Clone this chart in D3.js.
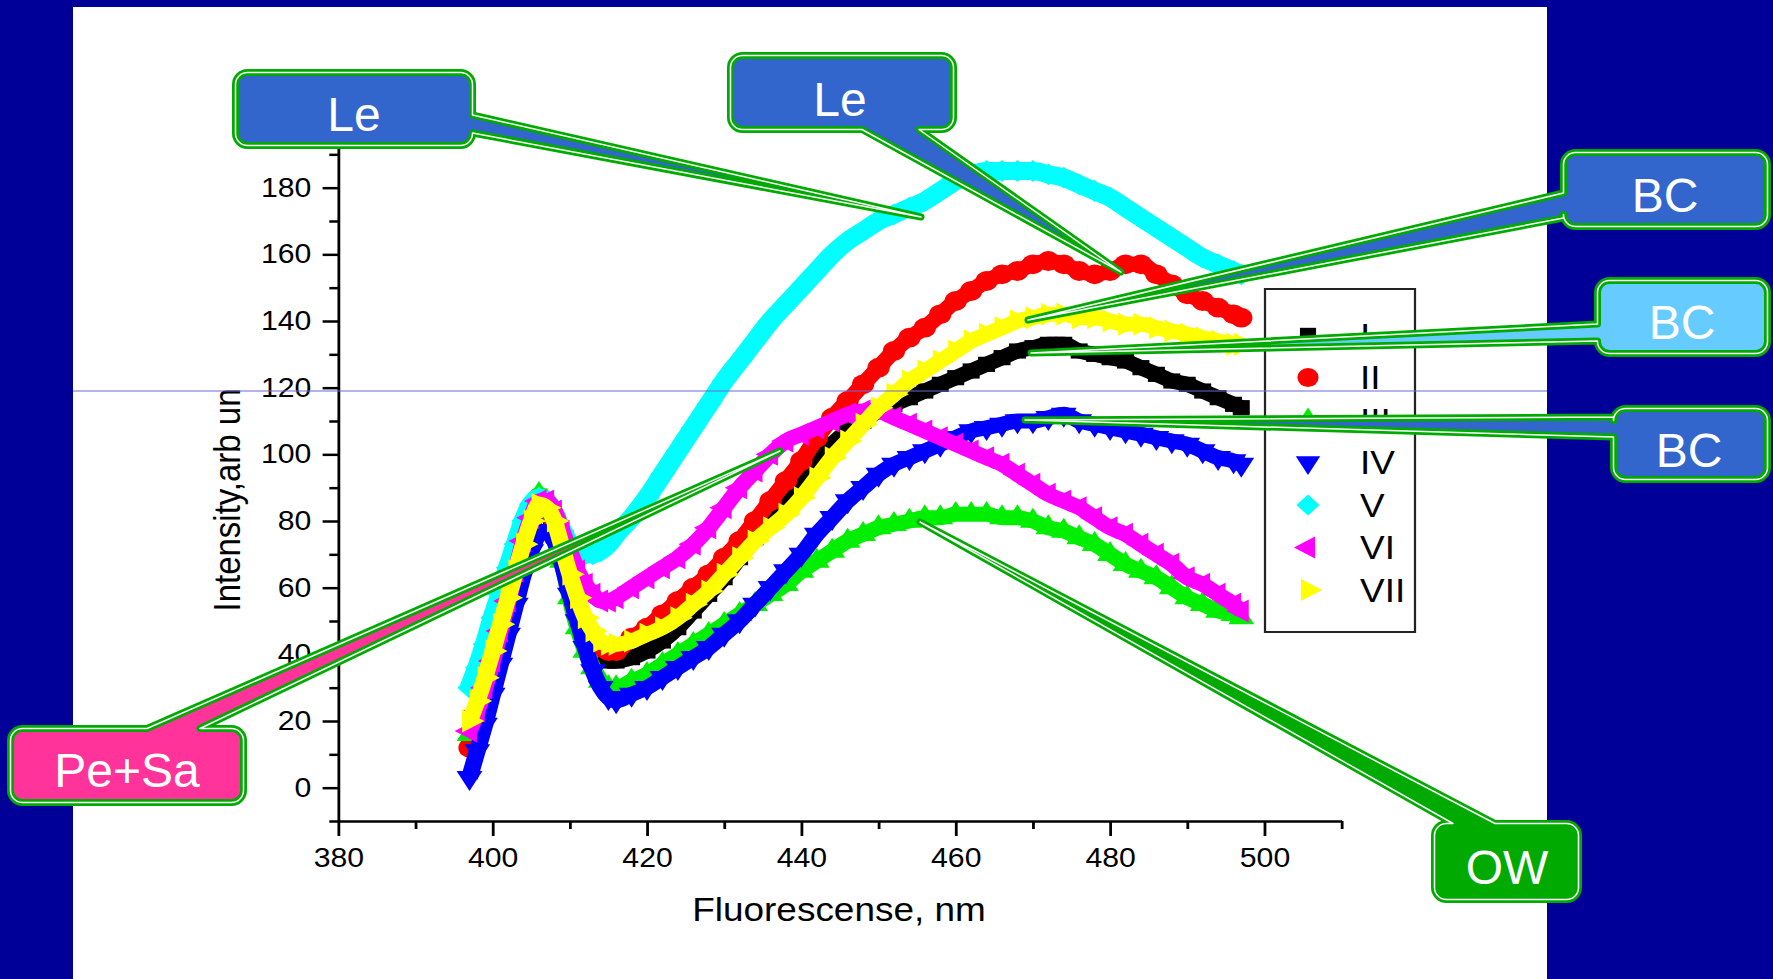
<!DOCTYPE html>
<html>
<head>
<meta charset="utf-8">
<script src="https://cdn.jsdelivr.net/npm/d3@7"></script>
<style>
  body { margin: 0; background: #000099; }
  svg { display: block; }
  text { font-family: "Liberation Sans", Arial, sans-serif; }
</style>
</head>
<body>
<div id="chart"></div>
<script>
// wavelengths (nm) shared by all seven spectra
const wavelengths = [397,398,399,400,401,402,403,404,405,406,407,408,409,410,411,412,413,414,415,416,
  418,420,422,424,426,428,430,432,434,436,438,440,442,444,446,448,450,452,454,456,
  458,460,462,464,466,468,470,472,474,476,478,480,482,484,486,488,490,492,494,496,497]

const seriesNames = ['I', 'II', 'III', 'IV', 'V', 'VI', 'VII']

const intensityI = [14,20,28,36,45,54,63,71,78,82,82,77,69,60,52,46,42,39,38,38,
  39,41,44,48,53,58,63,69,75,81,87,93,98,103,107,110,113,115,117,119,
  121,123,125,127,129,131,132,133,133,131,130,129,128,126,124,122,121,119,117,115,114]
const intensityII = [12,18,26,34,43,52,61,70,78,83,83,78,70,61,54,48,44,42,41,41,
  45,48,52,56,60,64,69,74,80,86,92,98,105,111,116,121,126,131,135,138,
  142,146,149,152,154,155,157,158,157,155,154,155,157,157,154,151,148,146,144,142,141]
const intensityIII = [16,21,28,36,45,55,65,75,83,88,86,79,68,57,48,41,36,32,30,30,
  32,34,37,40,43,46,49,52,55,58,61,65,68,71,74,76,78,79,80,81,
  81,82,82,82,81,81,80,78,77,75,73,70,67,65,63,60,57,55,53,52,51]
const intensityIV = [3,11,19,28,37,46,55,64,71,76,77,74,67,58,50,42,35,30,27,26,
  28,30,33,36,39,42,46,50,55,60,65,70,76,81,86,90,94,97,99,101,
  103,105,107,108,109,110,110,111,112,110,109,108,107,106,105,104,103,101,99,98,97]
const intensityV = [30,36,43,51,58,66,73,80,85,87,86,82,77,73,71,70,70,71,73,76,
  81,87,94,101,108,115,122,128,134,140,145,150,155,160,164,167,170,172,174,176,
  179,182,184,185,185,185,185,184,183,181,179,177,174,171,168,165,162,159,157,155,154]
const intensityVI = [17,23,30,38,47,56,65,74,81,86,86,83,77,71,65,61,58,56,56,57,
  60,63,66,69,73,78,84,90,95,100,104,106,108,110,112,113,113,111,109,107,
  105,103,101,99,97,94,91,88,86,84,81,78,76,73,70,67,63,61,58,55,53]
const intensityVII = [20,26,33,41,49,57,65,73,80,85,84,80,72,64,57,51,47,44,43,43,
  44,46,48,51,55,59,64,69,74,78,82,87,93,99,104,109,114,118,122,125,
  128,131,134,136,138,140,141,142,142,141,141,140,139,139,138,137,136,135,134,133,133]

const xTicks = [380, 400, 420, 440, 460, 480, 500]
const xMinorTicks = [390, 410, 430, 450, 470, 490, 510]
const yTicks = [0, 20, 40, 60, 80, 100, 120, 140, 160, 180]
const yMinorTicks = [-10, 10, 30, 50, 70, 90, 110, 130, 150, 170, 190]

const calloutLabels = ['Le', 'Le', 'BC', 'BC', 'BC', 'Pe+Sa', 'OW']

const W = 1773, H = 979
const SX = 1.12   // the pasted graph is a little stretched sideways

const svg = d3.select('#chart').append('svg')
              .attr('width', W)
              .attr('height', H)

svg.append('rect').attr('width', W).attr('height', H).attr('fill', '#000099')
svg.append('rect').attr('x', 73).attr('y', 7).attr('width', 1474).attr('height', H - 7).attr('fill', '#fff')

let g = svg.append('g').attr('transform', 'scale(' + SX + ',1)')

let x = d3.scaleLinear().domain([380, 510]).range([338.3 / SX, 1341.6 / SX])
let y = d3.scaleLinear().domain([-10, 200]).range([821, 121])

function styleAxis(sel) {
  sel.attr('font-size', 27)
     .attr('font-family', '"Liberation Sans", Arial, sans-serif')
     .attr('color', '#000')
  sel.selectAll('line, path').attr('stroke-width', 2.5)
}

// x axis
g.append('g')
 .attr('transform', 'translate(0,' + y(-10) + ')')
 .call(d3.axisBottom(x).tickValues(xTicks).tickSize(15).tickSizeOuter(0).tickPadding(12))
 .call(styleAxis)
g.append('g')
 .attr('transform', 'translate(0,' + y(-10) + ')')
 .call(d3.axisBottom(x).tickValues(xMinorTicks).tickSize(8).tickFormat(''))
 .call(styleAxis)
 .call(s => s.select('.domain').remove())

// y axis
g.append('g')
 .attr('transform', 'translate(' + x(380) + ',0)')
 .call(d3.axisLeft(y).tickValues(yTicks).tickSize(14).tickSizeOuter(0).tickPadding(10))
 .call(styleAxis)
g.append('g')
 .attr('transform', 'translate(' + x(380) + ',0)')
 .call(d3.axisLeft(y).tickValues(yMinorTicks).tickSize(8).tickFormat(''))
 .call(styleAxis)
 .call(s => s.select('.domain').remove())

g.append('text')
 .attr('x', 839 / SX)
 .attr('y', 921)
 .attr('text-anchor', 'middle')
 .attr('font-size', 33)
 .text('Fluorescense, nm')

g.append('text')
 .attr('transform', 'translate(' + (240 / SX) + ',500) rotate(-90)')
 .attr('text-anchor', 'middle')
 .attr('font-size', 33)
 .text('Intensity,arb un')

// the spectra, drawn I first so VII ends on top
const allValues = [intensityI, intensityII, intensityIII, intensityIV, intensityV, intensityVI, intensityVII]
const colors = ['#000000', '#ff0000', '#00ee00', '#0000ff', '#00ffff', '#ff00ff', '#ffff00']
const shapes = [
  {type: d3.symbolSquare, size: 230, rot: 0, band: 15},
  {type: d3.symbolCircle, size: 310, rot: 0, band: 15},
  {type: d3.symbolTriangle, size: 230, rot: 0, band: 15},
  {type: d3.symbolTriangle, size: 230, rot: 180, band: 15},
  {type: d3.symbolSquare, size: 240, rot: 45, band: 18},
  {type: d3.symbolTriangle, size: 230, rot: -90, band: 15},
  {type: d3.symbolTriangle, size: 230, rot: 90, band: 15}
]

let line = d3.line()
             .x(function(d) { return x(d[0]) })
             .y(function(d) { return y(d[1]) })
             .curve(d3.curveMonotoneX)

seriesNames.forEach(function(name, i) {
  let pts = wavelengths.map(function(w, j) { return [w, allValues[i][j]] })
  let s = g.append('g')
  s.append('path')
   .datum(pts)
   .attr('fill', 'none')
   .attr('stroke', colors[i])
   .attr('stroke-width', shapes[i].band)
   .attr('stroke-linejoin', 'round')
   .attr('d', line)
  s.selectAll('path.pt')
   .data(pts)
   .join('path')
   .attr('class', 'pt')
   .attr('fill', colors[i])
   .attr('transform', function(d) { return 'translate(' + x(d[0]) + ',' + y(d[1]) + ') rotate(' + shapes[i].rot + ')' })
   .attr('d', d3.symbol(shapes[i].type, shapes[i].size))
})

// legend
let legend = g.append('g')
legend.append('rect')
      .attr('x', 1265 / SX).attr('y', 289)
      .attr('width', 150 / SX).attr('height', 343)
      .attr('fill', '#fff').attr('stroke', '#222').attr('stroke-width', 2)
seriesNames.forEach(function(name, i) {
  let ry = 335 + i * 42.5
  legend.append('path')
        .attr('fill', colors[i])
        .attr('transform', 'translate(' + (1308 / SX) + ',' + ry + ') rotate(' + shapes[i].rot + ')')
        .attr('d', d3.symbol(shapes[i].type, shapes[i].size * 0.9))
  legend.append('text')
        .attr('x', 1360 / SX).attr('y', ry)
        .attr('dy', '0.36em')
        .attr('font-size', 33)
        .text(name)
})

// thin guide line across the slide
svg.append('line')
   .attr('x1', 73).attr('x2', 1547)
   .attr('y1', 391).attr('y2', 391)
   .attr('stroke', '#6b6bd6').attr('stroke-width', 1.2)

// callouts
const callouts = [
  {x0: 235.5, y0: 72.5, w: 237, h: 73, side: 'right', b1: 115, b2: 133, tip: [921, 217], fill: '#3366cc', tx: 354, ty: 131},
  {x0: 730.5, y0: 55.5, w: 223, h: 74, side: 'bottom', b1: 862, b2: 919, tip: [1121, 272], fill: '#3366cc', tx: 840, ty: 116},
  {x0: 1563.5, y0: 152.5, w: 204, h: 74, side: 'left', b1: 193, b2: 218, tip: [1028, 320], fill: '#3366cc', tx: 1665, ty: 212},
  {x0: 1597.5, y0: 280.5, w: 170, h: 73, side: 'left', b1: 324, b2: 341, tip: [1031, 353], fill: '#66ccff', tx: 1682, ty: 339},
  {x0: 1613.5, y0: 408.5, w: 154, h: 71, side: 'left', b1: 417, b2: 437, tip: [1025, 420], fill: '#3366cc', tx: 1689, ty: 467},
  {x0: 10.5, y0: 728.5, w: 233, h: 74, side: 'top', b1: 147, b2: 200, tip: [780, 451], fill: '#ff3399', tx: 127, ty: 787},
  {x0: 1434.5, y0: 823.5, w: 144, h: 76, side: 'top', b1: 1453, b2: 1495, tip: [920, 522], fill: '#00aa00', tx: 1507, ty: 884}
]

function calloutPath(c) {
  let r = 12, x0 = c.x0, y0 = c.y0, x1 = c.x0 + c.w, y1 = c.y0 + c.h
  let p = d3.path()
  p.moveTo(x0 + r, y0)
  if (c.side === 'top') { p.lineTo(c.b1, y0); p.lineTo(c.tip[0], c.tip[1]); p.lineTo(c.b2, y0) }
  p.lineTo(x1 - r, y0); p.arcTo(x1, y0, x1, y0 + r, r)
  if (c.side === 'right') { p.lineTo(x1, c.b1); p.lineTo(c.tip[0], c.tip[1]); p.lineTo(x1, c.b2) }
  p.lineTo(x1, y1 - r); p.arcTo(x1, y1, x1 - r, y1, r)
  if (c.side === 'bottom') { p.lineTo(c.b2, y1); p.lineTo(c.tip[0], c.tip[1]); p.lineTo(c.b1, y1) }
  p.lineTo(x0 + r, y1); p.arcTo(x0, y1, x0, y1 - r, r)
  if (c.side === 'left') { p.lineTo(x0, c.b2); p.lineTo(c.tip[0], c.tip[1]); p.lineTo(x0, c.b1) }
  p.lineTo(x0, y0 + r); p.arcTo(x0, y0, x0 + r, y0, r)
  p.closePath()
  return p.toString()
}

callouts.forEach(function(c, i) {
  let cg = svg.append('g')
  cg.append('path')
    .attr('d', calloutPath(c))
    .attr('fill', c.fill)
    .attr('stroke', '#00aa00')
    .attr('stroke-width', 7)
    .attr('stroke-linejoin', 'round')
  cg.append('path')
    .attr('d', calloutPath(c))
    .attr('fill', 'none')
    .attr('stroke', '#fff')
    .attr('stroke-width', 1.5)
    .attr('stroke-linejoin', 'round')
  cg.append('text')
    .attr('x', c.tx).attr('y', c.ty)
    .attr('text-anchor', 'middle')
    .attr('font-size', 48)
    .attr('fill', '#fff')
    .text(calloutLabels[i])
})
</script>
</body>
</html>
